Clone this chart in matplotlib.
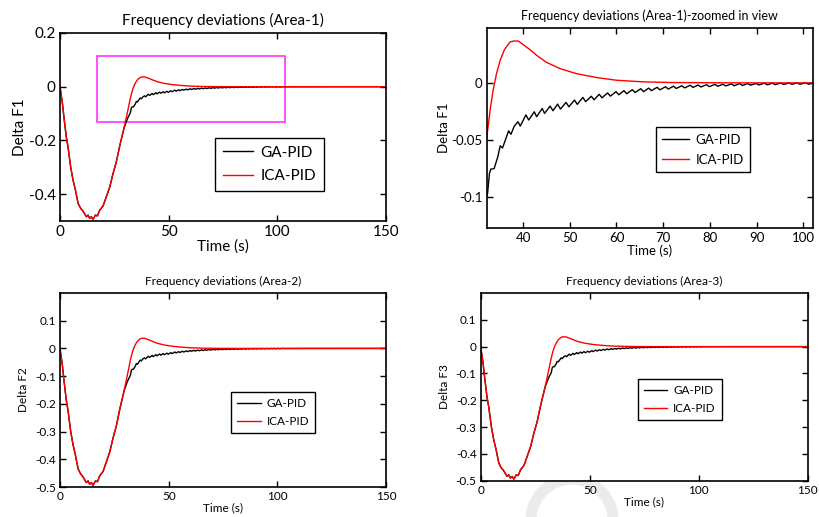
import matplotlib
matplotlib.use('Agg')
import matplotlib.pyplot as plt
from matplotlib.patches import Rectangle, Ellipse
from matplotlib.ticker import FuncFormatter

plt.rcParams['font.family'] = ['Lato', 'DejaVu Sans']
plt.rcParams['axes.unicode_minus'] = False

# common dip: GA-PID and ICA-PID overlap until ~29 s
t_dip = [0, 0.5, 1.0, 1.8, 2.9, 3.7, 4.9, 6.0, 7.1, 8.3, 9.5, 10.3, 11.0, 12.1,
         12.9, 13.6, 14.4, 15.2, 16.3, 17.2, 18.3, 19.8, 21.3, 22.9, 24.4, 25.9,
         27.5, 29.0]
f_dip = [0, -0.03, -0.055, -0.114, -0.188, -0.225, -0.299, -0.348, -0.385, -0.434,
         -0.453, -0.46, -0.469, -0.484, -0.478, -0.49, -0.484, -0.494, -0.478,
         -0.481, -0.459, -0.444, -0.41, -0.373, -0.323, -0.28, -0.219, -0.169]

# ICA-PID after the dip
t_ica = [29.3, 30.0, 30.7, 31.4, 32.3, 33.0, 33.6, 34.3, 35.1, 36.0, 37.2, 38.0,
         39.0, 40.0, 41.5, 42.9, 45.0, 47.9, 51.4, 55.7, 60.0, 65.7, 72.0, 80.0,
         90.0, 150.0]
f_ica = [-0.158, -0.133, -0.107, -0.080, -0.045, -0.022, -0.006, 0.008, 0.0198,
         0.029, 0.0358, 0.0366, 0.0366, 0.0335, 0.029, 0.0241, 0.018, 0.0125,
         0.0081, 0.0047, 0.0023, 0.0009, 0.0003, 0.0001, 0.0, 0.0]

# GA-PID after the dip (ripple read from the zoomed view)
ga_pts = [(29.6, -0.150), (30.5, -0.130), (31.4, -0.112), (32.0, -0.103),
          (32.4, -0.0965), (32.8, -0.079), (33.1, -0.0755), (33.8, -0.075),
          (34.6, -0.0645), (35.1, -0.055), (35.6, -0.057), (36.2, -0.050),
          (36.9, -0.042), (37.4, -0.045), (38.1, -0.038), (38.9, -0.034),
          (39.4, -0.0378), (40.6, -0.028), (41.2, -0.0325), (42.4, -0.0253),
          (42.9, -0.0296), (44.1, -0.0224), (44.6, -0.0267), (45.8, -0.0203),
          (46.4, -0.0244), (47.4, -0.0186), (48.0, -0.0229), (49.2, -0.0171),
          (49.8, -0.0209), (51.0, -0.0151), (51.6, -0.0188), (52.8, -0.0127),
          (53.4, -0.0165), (54.6, -0.0117), (55.2, -0.0148), (56.3, -0.0100),
          (56.9, -0.0131), (58.1, -0.0088), (58.7, -0.0116), (59.9, -0.0077),
          (60.5, -0.0104), (61.6, -0.0068), (62.2, -0.0095), (63.4, -0.0060),
          (64.0, -0.0085), (65.2, -0.0051), (65.8, -0.0077), (66.9, -0.0046),
          (67.5, -0.0068), (68.7, -0.0039), (69.3, -0.0061), (70.5, -0.0034),
          (71.1, -0.0054), (72.2, -0.0029), (72.8, -0.0049), (74.0, -0.0025),
          (74.6, -0.0044), (75.8, -0.0021), (76.4, -0.0040), (77.5, -0.0019),
          (78.1, -0.0036), (79.3, -0.0016), (79.9, -0.0033), (81.1, -0.0013),
          (81.7, -0.0030), (82.8, -0.0012), (83.4, -0.0027), (84.6, -0.0009),
          (85.2, -0.0025), (86.4, -0.0007), (87.0, -0.0023), (88.1, -0.0006),
          (88.7, -0.0020), (89.9, -0.0005), (90.5, -0.0018), (91.7, -0.0003),
          (92.3, -0.0017), (93.4, -0.0003), (94.0, -0.0015), (95.2, -0.0002),
          (95.8, -0.0014), (97.0, -0.0001), (97.6, -0.0013), (98.7, 0.0),
          (99.3, -0.0012), (100.5, 0.0001), (101.1, -0.0011), (102.3, 0.0),
          (103.0, -0.0004), (110.0, -0.0002), (120.0, -0.0001), (150.0, 0.0)]
t_ga = [p[0] for p in ga_pts]
f_ga = [p[1] for p in ga_pts]

titles = ['Frequency deviations (Area-1)',
          'Frequency deviations (Area-1)-zoomed in view',
          'Frequency deviations (Area-2)',
          'Frequency deviations (Area-3)']
ylabels = ['Delta F1', 'Delta F1', 'Delta F2', 'Delta F3']
series_names = ['GA-PID', 'ICA-PID']
zoom_box = (17, -0.133, 86.5, 0.248)   # x, y, width, height

t_GA = t_dip + t_ga
y_GA = f_dip + f_ga
t_ICA = t_dip + t_ica
y_ICA = f_dip + f_ica

fig = plt.figure(figsize=(8.2, 5.17), dpi=100)

# [left, bottom, width, height], fonts, legend anchor
panels = [
    dict(rect=[0.0732, 0.5725, 0.3976, 0.3637], fs=11, tfs=11, lfs=11, lp=1,
         xlim=(0, 150), ylim=(-0.5, 0.2), xt=[0, 50, 100, 150],
         yt=[-0.4, -0.2, 0, 0.2], leg=(0.475, 0.441)),
    dict(rect=[0.5935, 0.559, 0.398, 0.3868], fs=9.5, tfs=9, lfs=9.5, lp=1,
         xlim=(32.2, 102.1), ylim=(-0.127, 0.048), xt=list(range(40, 101, 10)),
         yt=[-0.1, -0.05, 0], leg=(0.518, 0.505)),
    dict(rect=[0.0732, 0.058, 0.3976, 0.3753], fs=8.5, tfs=8.5, lfs=8.5, lp=4,
         xlim=(0, 150), ylim=(-0.5, 0.2), xt=[0, 50, 100, 150],
         yt=[-0.5, -0.4, -0.3, -0.2, -0.1, 0, 0.1], leg=(0.525, 0.491)),
    dict(rect=[0.5862, 0.0702, 0.3988, 0.3631], fs=8.5, tfs=8.5, lfs=8.5, lp=4,
         xlim=(0, 150), ylim=(-0.5, 0.2), xt=[0, 50, 100, 150],
         yt=[-0.5, -0.4, -0.3, -0.2, -0.1, 0, 0.1], leg=(0.48, 0.542)),
]

fmt = FuncFormatter(lambda v, p: '%g' % round(v, 4))

for i, p in enumerate(panels):
    ax = fig.add_axes(p['rect'])
    l1, = ax.plot(t_GA, y_GA, color='black', lw=1.0)
    l2, = ax.plot(t_ICA, y_ICA, color='red', lw=1.0)
    ax.set_xlim(*p['xlim'])
    ax.set_ylim(*p['ylim'])
    ax.set_xticks(p['xt'])
    ax.set_yticks(p['yt'])
    ax.xaxis.set_major_formatter(fmt)
    ax.yaxis.set_major_formatter(fmt)
    ax.tick_params(direction='in', top=True, right=True, length=4, width=1,
                   labelsize=p['fs'], pad=3)
    for s in ax.spines.values():
        s.set_linewidth(1.2)
    ax.set_title(titles[i], fontsize=p['tfs'], pad=6)
    ax.set_ylabel(ylabels[i], fontsize=p['fs'], labelpad=p['lp'])
    ax.set_xlabel('Time (s)', fontsize=p['fs'], labelpad=0)
    leg = ax.legend([l1, l2], series_names, loc='upper left',
                    bbox_to_anchor=p['leg'], borderaxespad=0, fontsize=p['lfs'],
                    fancybox=False, framealpha=1, edgecolor='black',
                    handlelength=2.0, handletextpad=0.5, borderpad=0.5,
                    labelspacing=0.6)
    leg.get_frame().set_linewidth(1.0)
    if i == 0:
        ax.add_patch(Rectangle(zoom_box[:2], zoom_box[2], zoom_box[3],
                               fill=False, edgecolor='#ff33ff', lw=1.2))

# faint watermark ring at the bottom, behind the axes
fig.add_artist(Ellipse((572 / 820, 1 - 520 / 517), 82 / 820, 82 / 517,
                       transform=fig.transFigure, fill=False,
                       edgecolor='#ebebeb', lw=8, zorder=-1))

fig.savefig('out.png', dpi=100)
